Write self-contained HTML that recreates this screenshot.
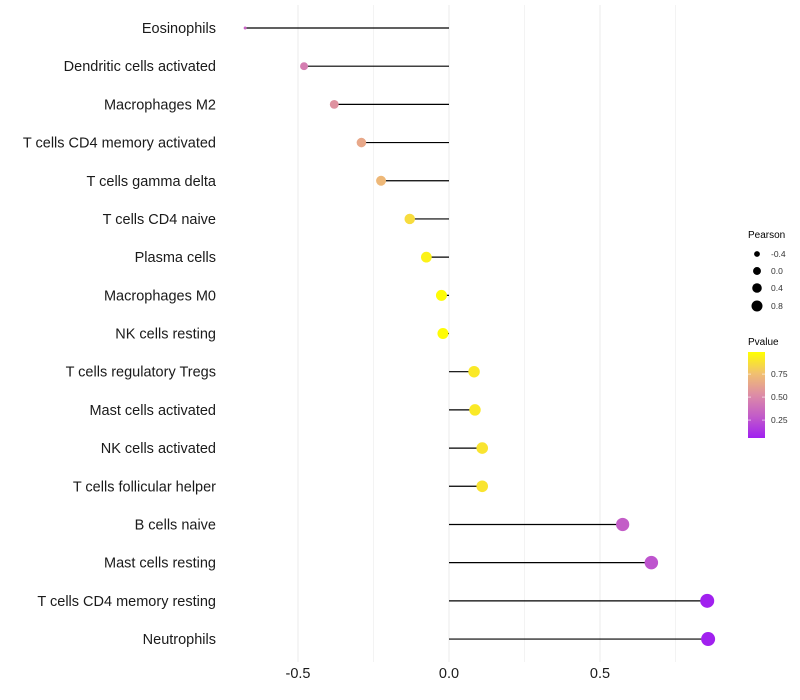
<!DOCTYPE html>
<html><head><meta charset="utf-8"><style>
body{margin:0;background:#fff;}
svg{display:block;font-family:"Liberation Sans",sans-serif;}
</style></head><body>
<svg id="chart" width="800" height="700">
<defs>
<linearGradient id="pgrad" x1="0" y1="1" x2="0" y2="0">
<stop offset="0" stop-color="#A020F0"/>
<stop offset="0.25" stop-color="#C25BC9"/>
<stop offset="0.5" stop-color="#DD8CA6"/>
<stop offset="0.75" stop-color="#F1C070"/>
<stop offset="1" stop-color="#FFFF00"/>
</linearGradient>
</defs>
<g id="grid"></g>
<g id="marks"></g>
<g id="labels"></g>
<g id="xt"></g>
<g>
<text x="748" y="238" font-size="10" fill="#000">Pearson</text>
<g id="sizeleg"></g>
</g>
<g>
<text x="748" y="345" font-size="10" fill="#000">Pvalue</text>
<rect x="748" y="352" width="17" height="86" fill="url(#pgrad)"/>
<g id="colleg"></g>
</g>
</svg>
<script>
const categories=["Eosinophils","Dendritic cells activated","Macrophages M2","T cells CD4 memory activated","T cells gamma delta","T cells CD4 naive","Plasma cells","Macrophages M0","NK cells resting","T cells regulatory  Tregs ","Mast cells activated","NK cells activated","T cells follicular helper","B cells naive","Mast cells resting","T cells CD4 memory resting","Neutrophils"];
const pearson=[-0.675,-0.48,-0.38,-0.29,-0.225,-0.13,-0.075,-0.025,-0.02,0.083,0.086,0.11,0.11,0.575,0.67,0.855,0.858];
const pvalue=[0.33,0.45,0.55,0.65,0.72,0.86,0.94,0.98,0.98,0.91,0.91,0.89,0.89,0.3,0.26,0.06,0.06];
const xTicks=[-0.5,0,0.5];
const xTickLabels=["-0.5","0.0","0.5"];
const sizeLegend=[-0.4,0.0,0.4,0.8];
const sizeLegendLabels=["-0.4","0.0","0.4","0.8"];
const colorLegend=[0.25,0.5,0.75];
const colorLegendLabels=["0.25","0.50","0.75"];

const NS="http://www.w3.org/2000/svg";
const x=v=>449+v*302;
const y=i=>28+i*38.19;
const r=v=>{const t=Math.max(0,Math.min(1,(v+0.675)/1.533));return Math.sqrt(2.25+46.75*Math.pow(t,0.6));};
const rl=v=>Math.sqrt(Math.max(2.5,18.5+21.5*v));
const stops=[[0,[160,32,240]],[0.25,[194,91,201]],[0.5,[221,140,166]],[0.75,[241,192,112]],[1,[255,255,0]]];
function col(p){const t=Math.max(0,Math.min(1,(p-0.055)/(0.99-0.055)));
for(let k=0;k<stops.length-1;k++){const a=stops[k],b=stops[k+1];if(t<=b[0]){const f=(t-a[0])/(b[0]-a[0]);
const c=a[1].map((v,j)=>Math.round(v+(b[1][j]-v)*f));return `rgb(${c})`;}}return "rgb(255,255,0)";}
function mk(tag,attrs,parent){const e=document.createElementNS(NS,tag);for(const k in attrs)e.setAttribute(k,attrs[k]);parent.appendChild(e);return e;}
const grid=document.getElementById('grid');
[-0.5,-0.25,0,0.25,0.5,0.75].forEach(v=>{const l=mk('line',{x1:x(v),x2:x(v),y1:5,y2:662,stroke:'#ebebeb','stroke-width':v%0.5===0?1:0.6},grid);

});
const marks=document.getElementById('marks'),labels=document.getElementById('labels');
categories.forEach((c,i)=>{
const l=mk('line',{x1:x(0),x2:x(pearson[i]),y1:y(i),y2:y(i),stroke:'#000','stroke-width':1.2},marks);


const d=mk('circle',{cx:x(pearson[i]),cy:y(i),r:r(pearson[i]),fill:col(pvalue[i])},marks);


const t=mk('text',{x:216,y:y(i)+5,'text-anchor':'end','font-size':14.5,fill:'#1a1a1a'},labels);
t.textContent=c;


});
const xt=document.getElementById('xt');
xTicks.forEach((v,i)=>{const t=mk('text',{x:x(v),y:678,'text-anchor':'middle','font-size':14.5,fill:'#1a1a1a'},xt);
t.textContent=xTickLabels[i];

});
const sl=document.getElementById('sizeleg');
const sy=[254,271,288,306];
sizeLegend.forEach((v,i)=>{const c=mk('circle',{cx:757,cy:sy[i],r:rl(v)*0.92,fill:'#000'},sl);


const t=mk('text',{x:771,y:sy[i]+3,'font-size':8.5,fill:'#333'},sl);t.textContent=sizeLegendLabels[i];

});
const cl=document.getElementById('colleg');
const cy=p=>438-(p-0.055)/(0.99-0.055)*86;
colorLegend.forEach((p,i)=>{const l=mk('line',{x1:748,x2:751,y1:cy(p),y2:cy(p),stroke:'#fff','stroke-width':0.6},cl);


const l2=mk('line',{x1:762,x2:765,y1:cy(p),y2:cy(p),stroke:'#fff','stroke-width':0.6},cl);


const t=mk('text',{x:771,y:cy(p)+3,'font-size':8.5,fill:'#333'},cl);t.textContent=colorLegendLabels[i];

});
</script>
</body></html>
